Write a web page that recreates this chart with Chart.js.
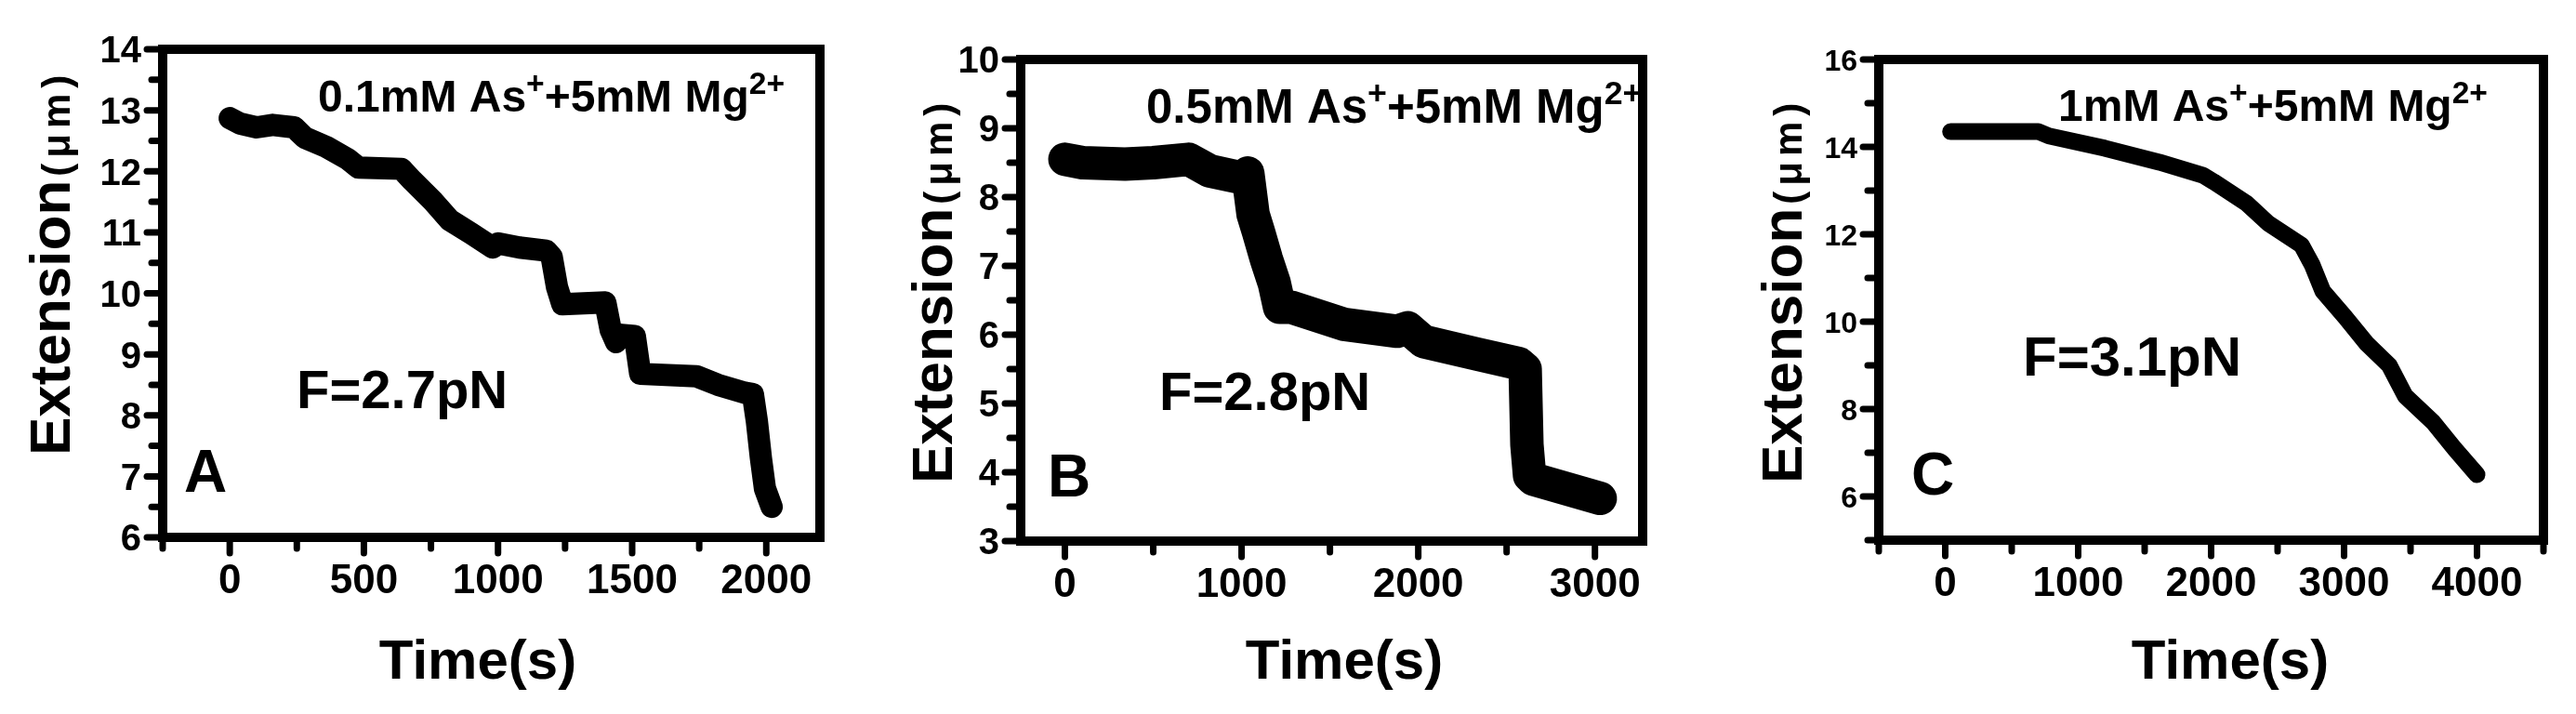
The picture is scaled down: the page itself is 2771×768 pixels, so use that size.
<!DOCTYPE html>
<html>
<head>
<meta charset="utf-8">
<script src="https://cdn.jsdelivr.net/npm/chart.js@4.4.1/dist/chart.umd.min.js"></script>
<style>
  html, body { margin: 0; padding: 0; background: #fff; }
  #wrap { position: relative; width: 2771px; height: 768px; }
  canvas { position: absolute; top: 0; }
</style>
</head>
<body>
<div id="wrap">
  <canvas id="chartA" width="925" height="768" style="left:0px"></canvas>
  <canvas id="chartB" width="925" height="768" style="left:925px"></canvas>
  <canvas id="chartC" width="921" height="768" style="left:1850px"></canvas>
</div>
<script>
// panel A: 0.1mM As+
const timeA = [0, 40, 100, 160, 240, 280, 360, 440, 480, 640, 680, 760, 820, 900, 980, 1000, 1080, 1180, 1200, 1220, 1240, 1400, 1420, 1440, 1460, 1510, 1530, 1740, 1820, 1920, 1950, 1965, 1980, 1995, 2020];
const extA = [12.87, 12.78, 12.72, 12.76, 12.72, 12.55, 12.4, 12.2, 12.06, 12.04, 11.85, 11.5, 11.2, 10.98, 10.75, 10.82, 10.75, 10.7, 10.6, 10.1, 9.82, 9.85, 9.4, 9.2, 9.32, 9.3, 8.68, 8.64, 8.5, 8.37, 8.35, 7.9, 7.3, 6.8, 6.5];
// panel B: 0.5mM As+
const timeB = [0, 100, 340, 500, 700, 820, 1000, 1035, 1065, 1095, 1140, 1185, 1215, 1280, 1580, 1880, 1940, 2030, 2330, 2570, 2605, 2615, 2630, 2650, 3030];
const extB = [8.55, 8.5, 8.48, 8.5, 8.55, 8.38, 8.28, 8.35, 7.75, 7.5, 7.1, 6.75, 6.4, 6.4, 6.15, 6.05, 6.1, 5.9, 5.72, 5.58, 5.5, 4.4, 3.95, 3.9, 3.62];
// panel C: 1mM As+
const timeC = [40, 700, 780, 1200, 1610, 1940, 2020, 2270, 2430, 2680, 2760, 2840, 3010, 3170, 3340, 3460, 3670, 3830, 4000];
const extC = [14.35, 14.35, 14.25, 13.97, 13.65, 13.35, 13.2, 12.7, 12.25, 11.75, 11.3, 10.7, 10.1, 9.5, 9.0, 8.3, 7.7, 7.1, 6.5];

const xLabelsA = [0, 500, 1000, 1500, 2000];
const yLabelsA = [6, 7, 8, 9, 10, 11, 12, 13, 14];
const xLabelsB = [0, 1000, 2000, 3000];
const yLabelsB = [3, 4, 5, 6, 7, 8, 9, 10];
const xLabelsC = [0, 1000, 2000, 3000, 4000];
const yLabelsC = [6, 8, 10, 12, 14, 16];

const FONT = '"Liberation Sans", Arial, sans-serif';

const panels = [
  {
    id: "chartA", width: 925, area: { l: 175, r: 882, t: 53, b: 578 },
    xMin: -250, xMax: 2200, xStep: 250, yMin: 6, yMax: 14, yStep: 0.5,
    xLabels: xLabelsA, yLabels: yLabelsA, time: timeA, ext: extA, lineW: 24, yFont: 40,
    note: { x: 342, y: 120, size: 48, parts: ["0.1mM As", "+", "+5mM Mg", "2+"] },
    force: { x: 319, y: 439, size: 58, text: "F=2.7pN" },
    letter: { x: 198, y: 529, text: "A" },
    ytitle: { x: 75, y: 490 },
    xtitle: { x: 514, y: 730 },
  },
  {
    id: "chartB", width: 925, area: { l: 173, r: 842, t: 64, b: 582 },
    xMin: -250, xMax: 3270, xStep: 500, yMin: 3, yMax: 10, yStep: 0.5,
    xLabels: xLabelsB, yLabels: yLabelsB, time: timeB, ext: extB, lineW: 36, yFont: 40,
    note: { x: 308, y: 132, size: 51, parts: ["0.5mM As", "+", "+5mM Mg", "2+"] },
    force: { x: 322, y: 441, size: 58, text: "F=2.8pN" },
    letter: { x: 202, y: 534, text: "B" },
    ytitle: { x: 99, y: 520 },
    xtitle: { x: 521, y: 730 },
  },
  {
    id: "chartC", width: 921, area: { l: 171, r: 886, t: 64, b: 581 },
    xMin: -500, xMax: 4500, xStep: 500, yMin: 5, yMax: 16, yStep: 1,
    xLabels: xLabelsC, yLabels: yLabelsC, time: timeC, ext: extC, lineW: 18, yFont: 32,
    note: { x: 364, y: 130, size: 48, parts: ["1mM As", "+", "+5mM Mg", "2+"] },
    force: { x: 326, y: 404, size: 60, text: "F=3.1pN" },
    letter: { x: 206, y: 532, text: "C" },
    ytitle: { x: 88, y: 520 },
    xtitle: { x: 549, y: 730 },
  },
];

function font(size) {
  return "bold " + size + "px " + FONT;
}

// text with superscripts: odd parts are raised
function drawNote(ctx, parts, x, y, size) {
  let cx = x;
  for (let i = 0; i < parts.length; i++) {
    const sup = i % 2 === 1;
    const fs = sup ? size * 0.7 : size;
    ctx.font = font(fs);
    ctx.fillText(parts[i], cx, sup ? y - size * 0.4 : y);
    cx += ctx.measureText(parts[i]).width;
  }
}

const decor = {
  id: "decor",
  afterDraw(chart, args, opts) {
    const p = opts.panel;
    const ctx = chart.ctx;
    const a = chart.chartArea;
    const xs = chart.scales.x;
    const ys = chart.scales.y;
    ctx.save();
    ctx.fillStyle = "#000";
    ctx.strokeStyle = "#000";

    // ticks, outward
    ctx.lineCap = "round";
    ctx.lineWidth = 7;
    for (let v = Math.ceil(p.xMin / p.xStep) * p.xStep; v <= p.xMax; v += p.xStep) {
      const px = xs.getPixelForValue(v);
      const len = p.xLabels.includes(v) ? 12 : 7;
      ctx.beginPath();
      ctx.moveTo(px, a.bottom);
      ctx.lineTo(px, a.bottom + 5 + len);
      ctx.stroke();
    }
    for (let v = p.yMin; v <= p.yMax + 1e-9; v += p.yStep) {
      const py = ys.getPixelForValue(v);
      const len = p.yLabels.includes(v) ? 12 : 7;
      ctx.beginPath();
      ctx.moveTo(a.left, py);
      ctx.lineTo(a.left - 5 - len, py);
      ctx.stroke();
    }

    // frame
    ctx.lineCap = "butt";
    ctx.lineWidth = 10;
    ctx.strokeRect(a.left, a.top, a.right - a.left, a.bottom - a.top);

    // tick labels
    ctx.textAlign = "center";
    ctx.textBaseline = "alphabetic";
    ctx.font = font(44);
    p.xLabels.forEach(function (v) {
      ctx.fillText(String(v), xs.getPixelForValue(v), a.bottom + 60);
    });
    ctx.textAlign = "right";
    ctx.font = font(p.yFont);
    p.yLabels.forEach(function (v) {
      ctx.fillText(String(v), a.left - 23, ys.getPixelForValue(v) + p.yFont * 0.36);
    });

    // annotations
    ctx.textAlign = "left";
    drawNote(ctx, p.note.parts, p.note.x, p.note.y, p.note.size);
    ctx.font = font(p.force.size);
    ctx.fillText(p.force.text, p.force.x, p.force.y);
    ctx.font = font(64);
    ctx.fillText(p.letter.text, p.letter.x, p.letter.y);

    // axis titles
    ctx.textAlign = "center";
    ctx.font = font(60);
    ctx.fillText("Time(s)", p.xtitle.x, p.xtitle.y);

    ctx.save();
    ctx.translate(p.ytitle.x, p.ytitle.y);
    ctx.rotate(-Math.PI / 2);
    ctx.textAlign = "left";
    ctx.font = font(62);
    ctx.fillText("Extension", 0, 0);
    const w = ctx.measureText("Extension").width;
    ctx.font = font(42);
    ctx.letterSpacing = "6px";
    ctx.fillText("(\u03bcm)", w + 4, 0);
    ctx.letterSpacing = "0px";
    ctx.restore();

    ctx.restore();
  },
};

panels.forEach(function (p) {
  const points = p.time.map(function (t, i) {
    return { x: t, y: p.ext[i] };
  });
  new Chart(document.getElementById(p.id), {
    type: "line",
    data: {
      datasets: [{
        data: points,
        borderColor: "#000",
        backgroundColor: "#000",
        borderWidth: p.lineW,
        borderJoinStyle: "round",
        borderCapStyle: "round",
        pointRadius: 0,
        tension: 0,
        fill: false,
      }],
    },
    options: {
      responsive: false,
      animation: false,
      devicePixelRatio: 1,
      layout: { padding: { left: 0, right: p.width - p.area.r, top: p.area.t, bottom: 0 } },
      plugins: {
        legend: { display: false },
        tooltip: { enabled: false },
        decor: { panel: p },
      },
      scales: {
        x: {
          type: "linear", min: p.xMin, max: p.xMax,
          ticks: { display: false }, grid: { display: false }, border: { display: false },
          afterFit: function (s) { s.height = 768 - p.area.b; },
        },
        y: {
          type: "linear", min: p.yMin, max: p.yMax,
          ticks: { display: false }, grid: { display: false }, border: { display: false },
          afterFit: function (s) { s.width = p.area.l; },
        },
      },
    },
    plugins: [decor],
  });
});
</script>
</body>
</html>
